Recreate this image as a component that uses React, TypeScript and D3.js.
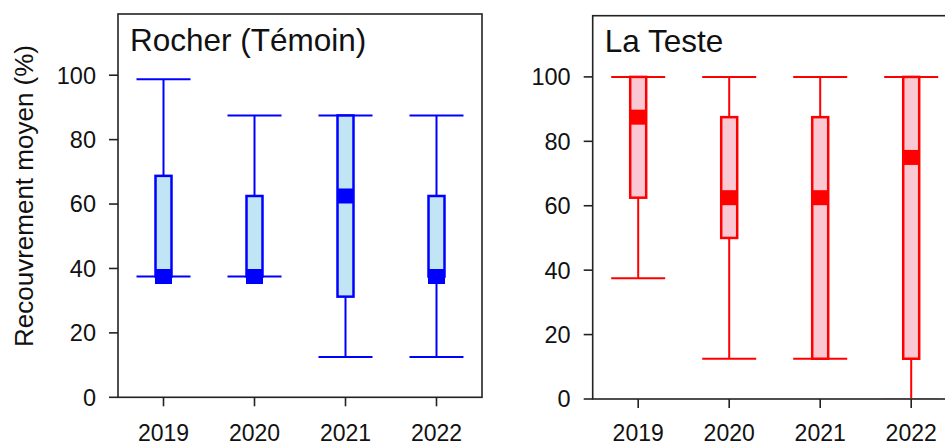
import React from "react";
import * as d3 from "d3";

const years = ["2019", "2020", "2021", "2022"];
const yTicks = [0, 20, 40, 60, 80, 100];

const rocherLow = [37.5, 37.5, 12.5, 12.5];
const rocherQ1 = [37.5, 37.5, 31.25, 37.5];
const rocherMed = [37.5, 37.5, 62.5, 37.5];
const rocherQ3 = [68.75, 62.5, 87.5, 62.5];
const rocherHigh = [98.75, 87.5, 87.5, 87.5];

const testeLow = [37.5, 12.5, 12.5, 0];
const testeQ1 = [62.5, 50, 12.5, 12.5];
const testeMed = [87.5, 62.5, 62.5, 75];
const testeQ3 = [100, 87.5, 87.5, 100];
const testeHigh = [100, 100, 100, 100];

const FONT = "'Liberation Sans', Arial, sans-serif";

type PanelProps = {
  id: string;
  title: string;
  left: number;
  top: number;
  bottom: number;
  width: number;
  stroke: string;
  fill: string;
  low: number[];
  q1: number[];
  med: number[];
  q3: number[];
  high: number[];
  titleBaseline: number;
  xLabelBaseline: number;
};

function Panel(p: PanelProps) {
  const yMax = 119;
  const y = d3.scaleLinear().domain([0, yMax]).range([p.bottom, p.top]);
  const x = d3
    .scalePoint<string>()
    .domain(years)
    .range([p.left, p.left + p.width])
    .padding(0.5);
  const capW = 54;
  const boxW = 16;
  const medH = 15;
  const medW = 17;
  return (
    <g>
      <defs>
        <clipPath id={p.id}>
          <rect x={p.left} y={p.top} width={p.width} height={p.bottom - p.top - 0.8} />
        </clipPath>
      </defs>
      <g clipPath={`url(#${p.id})`}>
        {years.map((yr, i) => {
          const cx = x(yr) as number;
          return (
            <g key={yr}>
              <line x1={cx} x2={cx} y1={y(p.low[i])} y2={y(p.q1[i])} stroke={p.stroke} strokeWidth={2} />
              <line x1={cx} x2={cx} y1={y(p.q3[i])} y2={y(p.high[i])} stroke={p.stroke} strokeWidth={2} />
              <line x1={cx - capW / 2} x2={cx + capW / 2} y1={y(p.low[i])} y2={y(p.low[i])} stroke={p.stroke} strokeWidth={2} />
              <line x1={cx - capW / 2} x2={cx + capW / 2} y1={y(p.high[i])} y2={y(p.high[i])} stroke={p.stroke} strokeWidth={2} />
              <rect
                x={cx - boxW / 2}
                y={y(p.q3[i])}
                width={boxW}
                height={y(p.q1[i]) - y(p.q3[i])}
                fill={p.fill}
                stroke={p.stroke}
                strokeWidth={2.5}
              />
              <rect
                x={cx - medW / 2}
                y={y(p.med[i]) - medH / 2}
                width={medW}
                height={medH}
                fill={p.stroke}
              />
            </g>
          );
        })}
      </g>
      <rect
        x={p.left}
        y={p.top}
        width={p.width}
        height={p.bottom - p.top}
        fill="none"
        stroke="#222"
        strokeWidth={1.6}
      />
      {yTicks.map((t) => (
        <g key={t}>
          <line x1={p.left - 9} x2={p.left} y1={y(t)} y2={y(t)} stroke="#222" strokeWidth={1.6} />
          <text
            x={p.left - 22}
            y={y(t)}
            dy="0.36em"
            textAnchor="end"
            fontFamily={FONT}
            fontSize={23.5}
            fill="#111"
          >
            {t}
          </text>
        </g>
      ))}
      {years.map((yr) => (
        <g key={yr}>
          <line x1={x(yr)} x2={x(yr)} y1={p.bottom} y2={p.bottom + 9} stroke="#222" strokeWidth={1.6} />
          <text
            x={x(yr)}
            y={p.xLabelBaseline}
            textAnchor="middle"
            fontFamily={FONT}
            fontSize={23}
            fill="#111"
          >
            {yr}
          </text>
        </g>
      ))}
      <text x={p.left + 12} y={p.titleBaseline} fontFamily={FONT} fontSize={31.5} fill="#111">
        {p.title}
      </text>
    </g>
  );
}

export default function App() {
  return (
    <svg
      width={945}
      height={444}
      style={{ position: "absolute", left: 0, top: 0, background: "#fff" }}
    >
      <rect x={0} y={0} width={945} height={444} fill="#fff" />
      <Panel
        id="clipRocher"
        title="Rocher (Témoin)"
        left={118}
        top={14}
        bottom={397.3}
        width={364}
        stroke="#0000ff"
        fill="#c1e5f5"
        low={rocherLow}
        q1={rocherQ1}
        med={rocherMed}
        q3={rocherQ3}
        high={rocherHigh}
        titleBaseline={51}
        xLabelBaseline={440.5}
      />
      <Panel
        id="clipTeste"
        title="La Teste"
        left={592.7}
        top={15.7}
        bottom={399}
        width={364}
        stroke="#ff0000"
        fill="#fac8d2"
        low={testeLow}
        q1={testeQ1}
        med={testeMed}
        q3={testeQ3}
        high={testeHigh}
        titleBaseline={52}
        xLabelBaseline={440.5}
      />
      <text
        transform="translate(33,196) rotate(-90)"
        textAnchor="middle"
        fontFamily={FONT}
        fontSize={26}
        fill="#111"
      >
        Recouvrement moyen (%)
      </text>
    </svg>
  );
}
